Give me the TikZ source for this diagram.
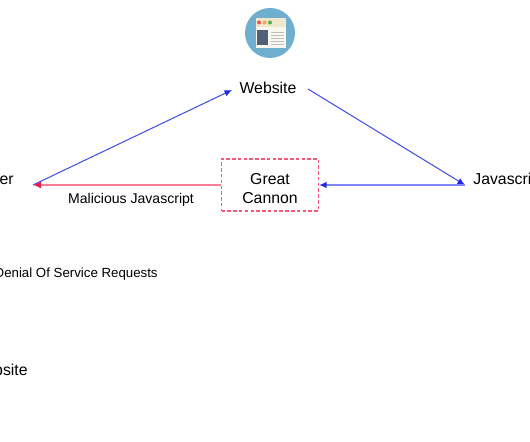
\documentclass[tikz,border=0pt]{standalone}
\usepackage{fontspec}
\setmainfont{Liberation Sans}
\usetikzlibrary{arrows.meta}
\definecolor{linkblue}{RGB}{70,80,230}
\definecolor{paleblue}{RGB}{125,135,250}
\definecolor{headblue}{RGB}{30,40,235}
\definecolor{attackred}{RGB}{250,125,150}
\definecolor{headred}{RGB}{225,30,70}
\definecolor{boxred}{RGB}{245,90,120}
\definecolor{iconblue}{RGB}{112,174,207}
\definecolor{iconcream}{RGB}{250,247,238}
\definecolor{iconbar}{RGB}{240,232,205}
\definecolor{iconslate}{RGB}{80,96,118}
\tikzset{
  textbig/.style={font=\fontsize{9}{11}\selectfont,inner sep=0pt},
  textsmall/.style={font=\fontsize{8}{10}\selectfont,inner sep=0pt},
  bluehead/.style={-{Latex[length=1.5mm,width=1.3mm,color=headblue]}},
  bluelink/.style={linkblue,line width=0.6pt},
  palelink/.style={paleblue,line width=0.9pt},
  redlink/.style={attackred,line width=1pt}
}
\begin{document}
\begin{tikzpicture}
  \useasboundingbox (0,0) rectangle (10.6,8.84);
  \clip (0,0) rectangle (10.6,8.84);
  % icono
  \fill[iconblue] (5.4,8.18) circle (0.5);
  \fill[iconcream] (5.11,7.88) rectangle (5.72,8.48);
  \fill[iconbar] (5.11,8.3) rectangle (5.72,8.48);
  \fill[red!70!white] (5.18,8.39) circle (0.04);
  \fill[orange!70!white] (5.29,8.39) circle (0.04);
  \fill[green!40!gray] (5.4,8.39) circle (0.04);
  \fill[iconslate] (5.14,7.93) rectangle (5.36,8.23);
  \foreach \y in {7.95,8.01,...,8.24}
    \draw[black!25,line width=0.3pt] (5.42,\y)--(5.68,\y);
  % nodos
  \node[textbig] (website) at (5.36,7.08) {Website};
  \node[textbig,anchor=east] (user) at (0.28,5.24) {er};
  \node[textbig,anchor=west] (script) at (9.46,5.24) {Javascript};
  \node[textbig,draw=boxred,dash pattern=on 2pt off 1.3pt,line width=0.6pt,minimum width=1.94cm,minimum height=1.04cm,align=center] (cannon) at (5.4,5.14) {\rule{0pt}{10pt}Great\\Cannon};
  \node[textsmall] (malicious) at (2.62,4.84) {Malicious Javascript};
  \node[textsmall,font=\fontsize{7.55}{10}\selectfont,anchor=east] (denial) at (3.16,3.36) {Denial Of Service Requests};
  \node[textbig,anchor=east] (target) at (0.56,1.44) {Website};
  % extremos libres
  \coordinate (userend) at (0.66,5.14);
  \coordinate (scriptend) at (9.3,5.14);
  \coordinate (webleft) at (4.64,7.04);
  \coordinate (webright) at (6.16,7.06);
  % flechas
  \draw[bluehead,bluelink] (userend)--(webleft);
  \draw[bluehead,bluelink] (webright)--(scriptend);
  \draw[bluehead,palelink] (scriptend)--(cannon.east);
  \draw[-{Latex[length=1.6mm,width=1.4mm,color=headred]},redlink] (cannon.west)--(userend);
\end{tikzpicture}
\end{document}
